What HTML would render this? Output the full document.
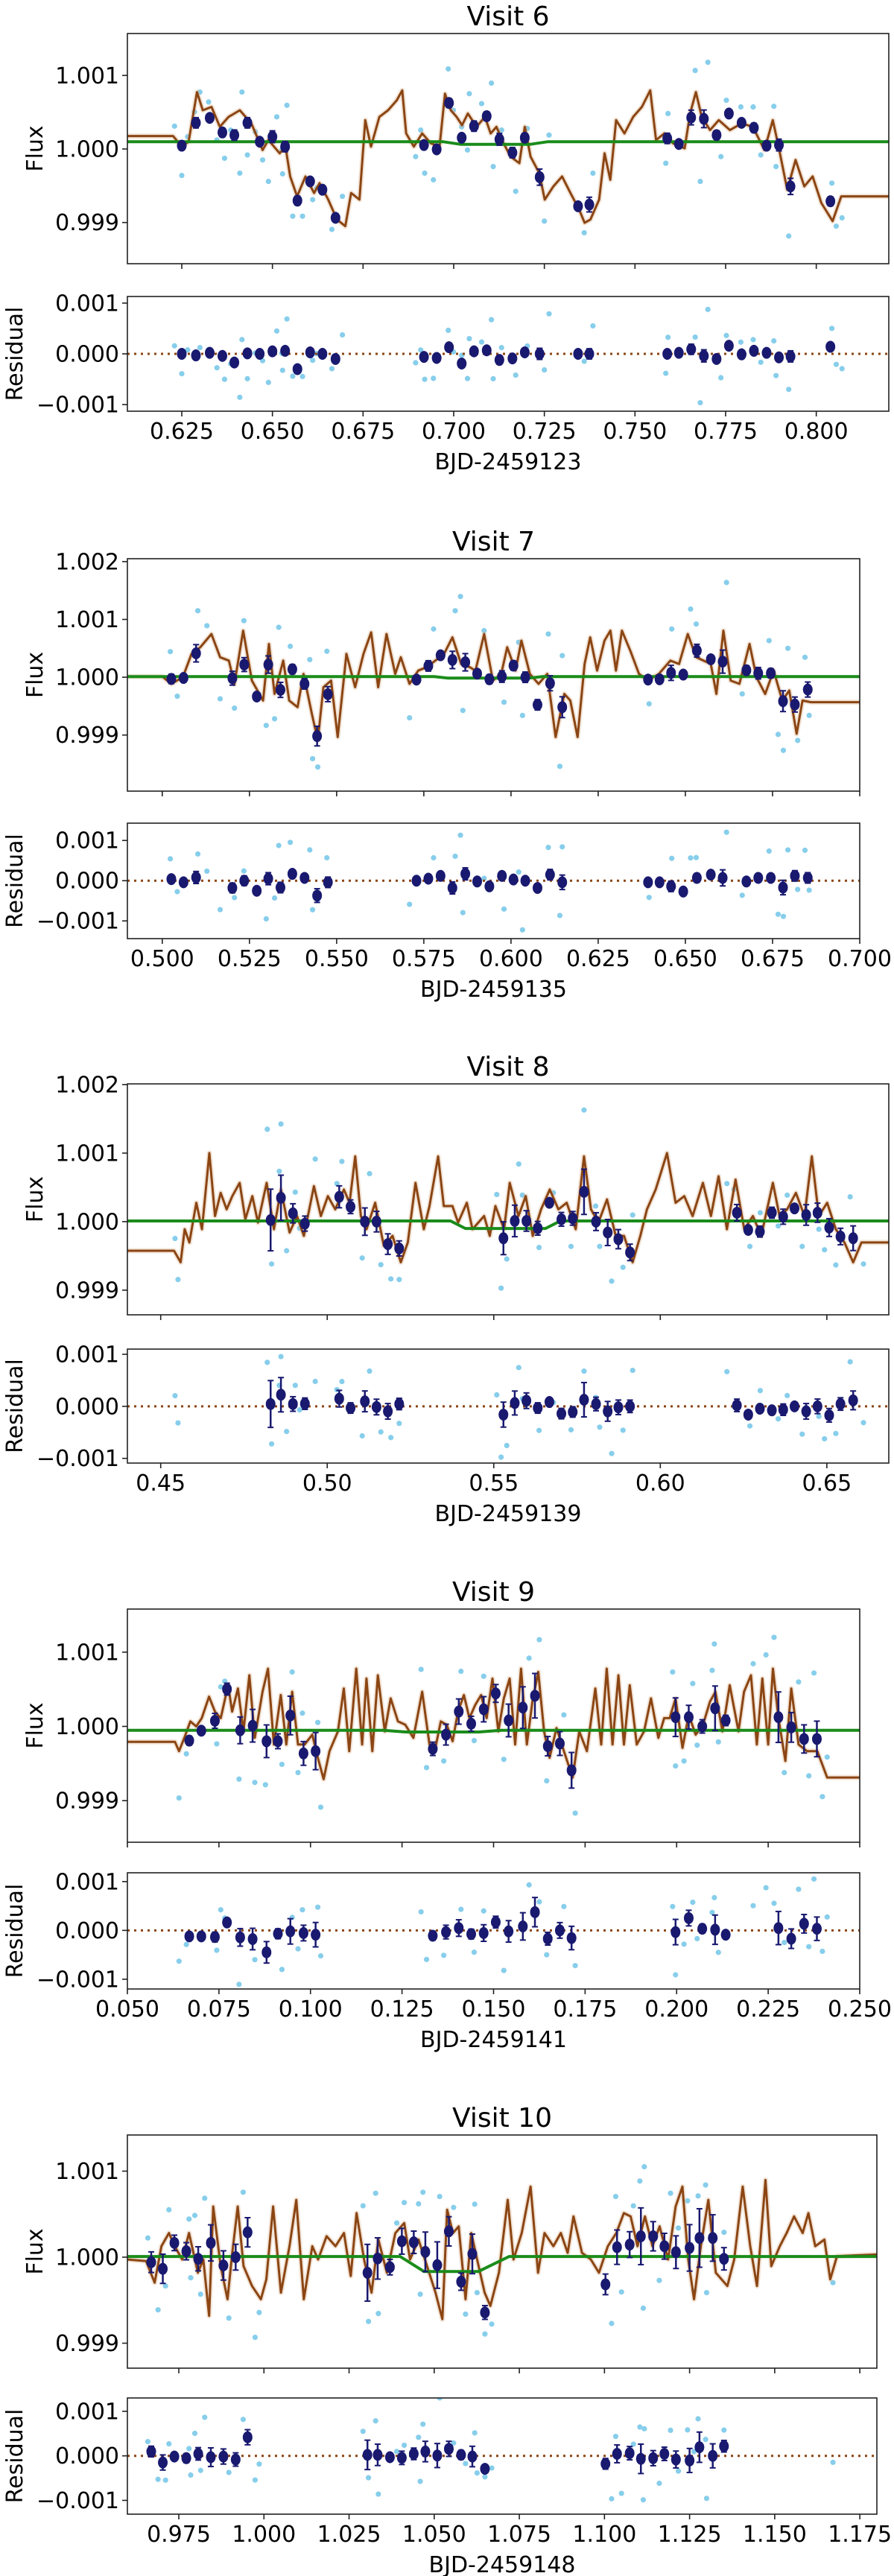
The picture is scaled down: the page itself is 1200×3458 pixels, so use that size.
<!DOCTYPE html>
<html><head><meta charset="utf-8">
<style>
html,body{margin:0;padding:0;background:#fff;}
svg{display:block;font-family:"DejaVu Sans","Liberation Sans",sans-serif;}
</style></head>
<body>
<svg id="fig" width="1200" height="3458" viewBox="0 0 1200 3458" xmlns="http://www.w3.org/2000/svg"></svg>
<script>
// ===== Visit 6 data (flux in ppm offset from 1) =====
const v6_bt=[0.6250,0.6289,0.6327,0.6362,0.6395,0.6431,0.6465,0.6500,0.6535,0.6569,0.6604,0.6638,0.6674,0.6918,0.6953,0.6987,0.7022,0.7056,0.7091,0.7126,0.7162,0.7196,0.7237,0.7343,0.7374,0.7589,0.7621,0.7655,0.7690,0.7725,0.7759,0.7794,0.7828,0.7863,0.7897,0.7929,0.8039];
const v6_bf=[45,356,423,225,189,356,99,167,32,-702,-441,-554,-936,54,-5,626,153,311,446,131,-50,153,-383,-779,-756,144,68,428,410,189,482,356,288,45,54,-509,-711];
const v6_be=[50,70,40,60,70,70,50,80,70,60,40,40,40,50,50,60,40,70,60,80,70,60,110,30,100,70,30,100,120,60,40,40,60,40,80,110,60];
const v6_rb=[0,-30,20,-40,-170,10,0,50,60,-300,30,0,-100,-60,-80,130,-190,50,70,-120,-90,30,0,0,0,0,20,90,-40,-100,160,-10,60,20,-70,-50,140];
const v6_rt=[0.6230,0.6250,0.6266,0.6285,0.6300,0.6324,0.6347,0.6368,0.6385,0.6410,0.6416,0.6431,0.6453,0.6473,0.6489,0.6512,0.6526,0.6540,0.6528,0.6556,0.6583,0.6611,0.6622,0.6664,0.6693,0.6895,0.6909,0.6920,0.6944,0.6985,0.6999,0.7022,0.7038,0.7043,0.7077,0.7104,0.7109,0.7132,0.7171,0.7203,0.7250,0.7263,0.7360,0.7384,0.7585,0.7591,0.7666,0.7680,0.7701,0.7737,0.7752,0.7792,0.7826,0.7847,0.7883,0.7889,0.7924,0.8043,0.8055,0.8071];
const v6_rf=[310,-360,167,504,774,639,122,-126,257,-329,774,-81,234,-149,-441,437,-14,594,-338,-914,-914,-689,-531,-1094,-644,-104,257,-329,-419,1089,527,302,-14,752,617,896,-239,257,-576,279,-981,189,-1139,-329,-194,482,1067,-441,1179,-104,662,572,572,-81,580,-239,-1184,-464,-1049,-936];
const v6_mt=[0.6099,0.6226,0.625,0.6269,0.6292,0.6308,0.6332,0.6355,0.6379,0.6410,0.6442,0.6473,0.6489,0.6520,0.6536,0.6549,0.6568,0.6591,0.6615,0.6630,0.6654,0.6678,0.6701,0.6717,0.6740,0.6756,0.6772,0.6795,0.6819,0.6843,0.6858,0.6869,0.6890,0.6913,0.6937,0.6961,0.6976,0.6992,0.7008,0.7023,0.7039,0.7063,0.7086,0.7102,0.7118,0.7133,0.7157,0.7181,0.7196,0.7212,0.7236,0.7251,0.7275,0.7299,0.7322,0.7346,0.7361,0.7377,0.7401,0.7416,0.7432,0.7448,0.7471,0.7495,0.7519,0.7542,0.7558,0.7581,0.7605,0.7637,0.7652,0.7668,0.7684,0.7707,0.7731,0.7762,0.7794,0.7825,0.7857,0.7880,0.7896,0.7920,0.7943,0.7967,0.7990,0.8014,0.8045,0.8069,0.8203];
const v6_mf=[176,176,32,99,774,527,572,302,437,527,347,-14,122,-59,32,-374,-644,-374,-599,-464,-689,-959,-1049,-599,-689,392,32,437,527,662,797,212,32,212,77,32,752,527,437,324,482,302,437,212,302,122,-104,-194,302,-104,-329,-689,-509,-374,-599,-824,-1004,-959,-689,-59,-419,392,212,437,572,797,122,212,77,9,482,774,437,257,392,257,347,302,-14,392,32,-554,-149,-509,-374,-734,-981,-644,-644];
const v6_gt=[0.61,0.697,0.702,0.721,0.726,0.82];
const v6_gf=[99,99,63,63,99,99];
const v6_xticks=[0.625,0.650,0.675,0.700,0.725,0.750,0.775,0.800];
const v6_yticks=[-1000,0,1000];

// ===== Visit 7 =====
const v7_bt=[0.5026,0.5061,0.5097,0.5201,0.5235,0.5271,0.5304,0.5339,0.5373,0.5408,0.5444,0.5475,0.5729,0.5763,0.5798,0.5832,0.5869,0.5903,0.5938,0.5974,0.6007,0.6041,0.6076,0.6112,0.6147,0.6393,0.6426,0.6459,0.6494,0.6533,0.6573,0.6607,0.6675,0.6709,0.6745,0.6780,0.6814,0.6851];
const v7_bf=[-29,-12,414,-17,219,-334,219,-219,138,-115,-1018,-293,-40,196,380,299,259,63,-35,12,201,0,-477,-104,-518,-40,-35,75,46,460,311,270,121,69,69,-414,-472,-213];
const v7_be=[80,60,150,120,120,40,150,130,80,90,170,130,60,90,60,150,150,40,80,100,80,90,90,130,180,70,70,130,40,110,40,200,80,100,80,180,130,130];
const v7_rb=[40,-40,80,-180,0,-250,50,-170,170,70,-370,-40,0,50,120,-180,170,-20,-140,120,30,0,-180,150,-40,-40,-40,-140,-270,70,150,70,-20,70,70,-170,120,70];
const v7_rt=[0.5023,0.5043,0.5102,0.5128,0.5166,0.5207,0.5234,0.5298,0.5334,0.5322,0.5367,0.5423,0.5431,0.5446,0.5472,0.5709,0.5778,0.5840,0.5855,0.5862,0.5923,0.5980,0.6022,0.6033,0.6107,0.6140,0.6147,0.6396,0.6461,0.6515,0.6531,0.6618,0.6663,0.6740,0.6766,0.6781,0.6794,0.6822,0.6843,0.6855];
const v7_rf=[443,-328,1150,891,-374,-535,978,-834,863,-719,535,305,-1409,-1553,449,-702,834,1150,1397,-575,805,-431,604,-661,748,-1541,374,-460,834,1179,920,1639,-288,633,-989,-1265,500,-1093,345,-661];
const v7_mt=[0.49,0.5,0.5026,0.5059,0.5084,0.5109,0.5141,0.5166,0.5191,0.5207,0.5232,0.5257,0.5289,0.5306,0.5322,0.5347,0.5364,0.5388,0.5405,0.5429,0.5446,0.5462,0.5484,0.5503,0.5528,0.5553,0.5577,0.5599,0.5619,0.5643,0.5668,0.5684,0.5709,0.5734,0.5758,0.5783,0.5808,0.5832,0.5857,0.5882,0.5898,0.5923,0.5948,0.5972,0.5989,0.6013,0.6030,0.6054,0.6079,0.6104,0.6128,0.6153,0.6170,0.6191,0.6211,0.6227,0.6247,0.6268,0.6285,0.6301,0.6318,0.6342,0.6367,0.6392,0.6424,0.6457,0.6482,0.6507,0.6531,0.6573,0.6589,0.6609,0.6630,0.6655,0.6684,0.6704,0.6729,0.6753,0.6778,0.6798,0.6819,0.6836,0.6860,0.70];
const v7_mf=[12,12,-115,0,403,518,748,345,288,-115,805,-58,-403,575,-288,288,-403,-518,58,-633,-1093,-173,-58,-1035,403,-173,403,776,-173,748,58,345,-115,115,173,288,403,690,230,173,115,748,-58,58,518,115,633,58,-115,58,-1035,-288,-403,-1035,230,690,115,633,805,115,805,460,58,-58,58,288,230,748,345,230,-288,805,-58,-115,575,0,-288,115,-403,-230,-978,-403,-431,-431];
const v7_gt=[0.49,0.578,0.582,0.605,0.609,0.70];
const v7_gf=[12,12,-15,-15,12,12];
const v7_xticks=[0.500,0.525,0.550,0.575,0.600,0.625,0.650,0.675,0.700];
const v7_yticks=[-1000,0,1000,2000];

// ===== Visit 8 =====
const v8_bt=[0.4830,0.4861,0.4897,0.4933,0.5036,0.5070,0.5113,0.5148,0.5182,0.5216,0.5529,0.5563,0.5598,0.5632,0.5667,0.5703,0.5737,0.5771,0.5807,0.5842,0.5874,0.5909,0.6230,0.6264,0.6299,0.6335,0.6369,0.6403,0.6438,0.6472,0.6507,0.6541,0.6579];
const v8_bf=[24,348,121,-29,362,217,0,0,-328,-391,-242,10,10,-97,275,34,48,435,0,-159,-256,-449,130,-121,-145,130,72,193,97,130,-87,-217,-242];
const v8_be=[450,330,140,110,160,100,200,150,150,110,240,230,150,100,60,100,100,330,130,190,140,120,120,60,80,80,110,40,150,140,130,120,180];
const v8_rb=[45,223,45,51,147,-32,96,-13,-96,45,-159,64,108,-32,83,-140,-108,127,45,-96,-19,0,19,-159,-45,-76,-64,0,-96,0,-172,45,115];
const v8_rt=[0.4552,0.4543,0.4820,0.4861,0.4833,0.4856,0.4878,0.4904,0.4917,0.4964,0.5029,0.5044,0.5105,0.5127,0.5161,0.5191,0.5216,0.5509,0.5522,0.5539,0.5575,0.5586,0.5636,0.5679,0.5732,0.5771,0.5806,0.5818,0.5854,0.5888,0.5917,0.6200,0.6221,0.6269,0.6300,0.6354,0.6381,0.6426,0.6476,0.6493,0.6527,0.6570,0.6610];
const v8_rf=[-845,-246,1348,1425,-618,734,-425,430,-97,913,555,879,-531,700,-628,-836,-845,396,-971,-546,840,386,-377,420,-362,1628,227,-362,-869,-667,97,555,469,-362,130,-63,386,-362,-111,-411,-633,362,-618];
const v8_mt=[0.44,0.4540,0.4560,0.4572,0.4586,0.4607,0.4624,0.4646,0.4663,0.4680,0.4698,0.4715,0.4737,0.4754,0.4775,0.4792,0.4818,0.4840,0.4861,0.4887,0.4909,0.4930,0.4960,0.4981,0.5002,0.5024,0.5050,0.5067,0.5084,0.5101,0.5118,0.5144,0.5170,0.5196,0.5221,0.5242,0.5265,0.5290,0.5307,0.5333,0.5350,0.5376,0.5393,0.5419,0.5436,0.5471,0.5488,0.5505,0.5531,0.5548,0.5574,0.5596,0.5617,0.5642,0.5668,0.5694,0.5719,0.5746,0.5771,0.5792,0.5814,0.5840,0.5866,0.5891,0.5917,0.5940,0.5960,0.5986,0.6020,0.6046,0.6072,0.6097,0.6128,0.6152,0.6175,0.6200,0.6226,0.6252,0.6278,0.6303,0.6338,0.6358,0.6381,0.6407,0.6433,0.6455,0.6476,0.6501,0.6527,0.6553,0.6579,0.6604,0.6700];
const v8_mf=[-425,-425,-594,-111,-304,275,-111,1000,82,420,179,372,565,34,372,-14,565,-111,469,-159,82,-208,517,82,372,179,469,275,952,82,-111,275,-353,-208,-594,-304,565,-111,227,952,227,227,-14,275,-111,82,-208,227,-111,565,82,372,-208,179,469,179,275,-111,952,179,-14,324,-208,-208,-594,-208,179,469,1000,275,372,82,565,82,662,-111,613,-111,82,-208,565,82,179,420,82,952,82,275,-111,-304,-594,-304,-304];
const v8_gt=[0.44,0.537,0.5415,0.5655,0.570,0.6686];
const v8_gf=[10,10,-100,-100,10,10];
const v8_xticks=[0.45,0.50,0.55,0.60,0.65];
const v8_yticks=[-1000,0,1000,2000];

// ===== Visit 9 =====
const v9_bt=[0.0669,0.0702,0.0739,0.0772,0.0808,0.0842,0.0880,0.0911,0.0945,0.0981,0.1014,0.1334,0.1370,0.1405,0.1439,0.1473,0.1506,0.1541,0.1580,0.1613,0.1648,0.1681,0.1713,0.1997,0.2033,0.2070,0.2105,0.2134,0.2278,0.2313,0.2348,0.2383];
const v9_bf=[-191,-58,75,502,-53,9,-200,-200,147,-364,-333,-302,-111,200,36,231,444,80,253,413,-266,-231,-591,124,124,0,244,80,124,-13,-169,-169];
const v9_be=[60,50,100,80,180,220,220,100,260,160,250,90,140,170,100,170,120,220,280,300,130,160,240,260,160,90,300,70,340,200,190,240];
const v9_rb=[-122,-122,-136,163,-143,-177,-449,-68,-20,-54,-88,-109,-34,48,-75,-54,170,-20,82,374,-170,0,-156,-34,252,34,14,-88,48,-170,136,34];
const v9_rt=[0.0641,0.0661,0.0744,0.0755,0.0766,0.0805,0.0848,0.0877,0.0922,0.0950,0.0966,0.0978,0.1020,0.1028,0.1302,0.1317,0.1364,0.1411,0.1447,0.1473,0.1528,0.1597,0.1625,0.1645,0.1692,0.1723,0.1989,0.1997,0.2020,0.2044,0.2056,0.2097,0.2103,0.2114,0.2209,0.2244,0.2266,0.2294,0.2333,0.2361,0.2375,0.2398,0.2411];
const v9_rf=[-964,-369,-235,533,608,-710,-755,-786,-511,733,-622,178,53,-1088,768,-555,-466,742,-191,675,-444,919,1168,-733,155,-1168,733,-533,-466,577,-253,755,1110,-209,844,963,1199,-622,599,-666,719,-946,-413];
const v9_mt=[0.05,0.0630,0.0641,0.0656,0.0672,0.0688,0.0703,0.0723,0.0739,0.0755,0.0775,0.0786,0.0802,0.0817,0.0833,0.0848,0.0869,0.0884,0.0900,0.0919,0.0934,0.0950,0.0966,0.0984,0.1005,0.1020,0.1036,0.1052,0.1075,0.1091,0.1106,0.1125,0.1141,0.1153,0.1169,0.1184,0.1203,0.1219,0.1239,0.1259,0.1281,0.1305,0.1325,0.1341,0.1356,0.1372,0.1388,0.1403,0.1419,0.1434,0.1450,0.1466,0.1481,0.1497,0.1513,0.1528,0.1544,0.1559,0.1575,0.1591,0.1606,0.1622,0.1638,0.1653,0.1672,0.1692,0.1716,0.1734,0.1755,0.1778,0.1794,0.1809,0.1825,0.1841,0.1856,0.1872,0.1891,0.1911,0.1930,0.1950,0.1966,0.1981,0.1997,0.2016,0.2033,0.2052,0.2072,0.2091,0.2106,0.2125,0.2145,0.2169,0.2184,0.2203,0.2219,0.2234,0.2250,0.2263,0.2278,0.2297,0.2313,0.2333,0.2356,0.2384,0.2411,0.25];
const v9_mf=[-209,-209,-333,-147,67,0,111,400,200,111,555,200,511,-67,688,-155,466,777,-244,422,-244,466,-244,-244,-111,-422,-710,-333,-67,511,-333,777,-244,644,-333,688,-67,377,67,22,-155,466,-244,-289,67,22,-200,200,422,111,289,422,111,644,-67,377,644,-244,777,-244,333,733,-67,-422,-22,-333,-688,-67,-333,511,-244,777,-244,688,-244,555,-244,-67,377,-155,111,111,377,-289,155,-111,22,333,466,-67,555,-67,466,688,-244,644,-244,777,111,-466,511,-244,-333,-333,-688,-688];
const v9_gt=[0.05,0.120,0.126,0.146,0.152,0.25];
const v9_gf=[-53,-53,-75,-75,-53,-53];
const v9_xticks=[0.050,0.075,0.100,0.125,0.150,0.175,0.200,0.225,0.250];
const v9_yticks=[-1000,0,1000];

// ===== Visit 10 =====
const v10_bt=[0.9669,0.9703,0.9737,0.9772,0.9807,0.9844,0.9881,0.9917,0.9952,1.0304,1.0334,1.0370,1.0405,1.0440,1.0474,1.0509,1.0543,1.0579,1.0612,1.0649,1.1003,1.1037,1.1074,1.1107,1.1143,1.1176,1.1210,1.1250,1.1279,1.1318,1.1351];
const v10_bf=[-58,-135,166,69,-19,166,-96,0,289,-181,-15,-116,185,173,62,-92,300,-285,38,-643,-316,116,146,243,243,127,58,108,223,223,-19];
const v10_be=[120,170,90,100,140,210,170,150,170,330,240,90,150,130,230,270,170,100,230,80,120,200,150,330,170,150,190,270,340,270,130];
const v10_rb=[97,-149,-15,-52,45,-30,-15,-82,418,22,22,-30,-45,45,97,7,157,22,-15,-291,-179,45,60,-67,-52,45,-82,-104,194,0,216];
const v10_rt=[0.9659,0.9689,0.9711,0.9721,0.9780,0.9785,0.9797,0.9814,0.9826,0.9897,0.9939,0.9974,0.9986,1.0291,1.0307,1.0328,1.0336,1.0390,1.0412,1.0454,1.0459,1.0467,1.0516,1.0557,1.0592,1.0619,1.0626,1.0649,1.0669,1.1021,1.1033,1.1050,1.1085,1.1104,1.1114,1.1117,1.1161,1.1194,1.1217,1.1244,1.1263,1.1275,1.1297,1.1300,1.1351,1.1671];
const v10_rf=[223,-612,-335,551,443,-239,485,-431,685,-708,755,-932,-643,597,-747,743,-655,397,635,620,-431,755,705,578,-662,616,-412,-893,-778,-770,705,-404,597,885,-593,1051,-270,743,339,655,-393,712,839,-412,289,-296];
const v10_mt=[0.9598,0.9654,0.9679,0.9699,0.9721,0.9738,0.9760,0.9780,0.9806,0.9822,0.9839,0.9851,0.9873,0.9893,0.9907,0.9923,0.9940,0.9965,0.9991,1.0007,1.0027,1.0050,1.0075,1.0095,1.0117,1.0142,1.0159,1.0184,1.0210,1.0235,1.0255,1.0272,1.0294,1.0316,1.0336,1.0361,1.0386,1.0412,1.0429,1.0454,1.0479,1.0504,1.0524,1.0538,1.0555,1.0572,1.0592,1.0609,1.0626,1.0648,1.0665,1.0690,1.0716,1.0733,1.0757,1.0783,1.0805,1.0824,1.0850,1.0872,1.0892,1.0909,1.0934,1.0960,1.0984,1.1010,1.1035,1.1057,1.1077,1.1097,1.1119,1.1141,1.1162,1.1187,1.1209,1.1229,1.1246,1.1263,1.1283,1.1305,1.1327,1.1361,1.1381,1.1406,1.1428,1.1448,1.1473,1.1490,1.1515,1.1535,1.1557,1.1582,1.1599,1.1619,1.1646,1.1663,1.1683,1.1801];
const v10_mf=[-27,-46,-296,127,281,127,-27,281,-181,-27,-681,589,-104,-489,50,589,-104,-335,-489,-258,589,-412,127,666,-489,127,-27,243,127,281,-219,512,-27,-412,204,-181,281,397,-27,204,-104,-412,-720,551,281,358,-489,281,-27,-412,-566,-181,666,-27,281,820,-181,281,127,281,50,474,50,-27,-181,127,281,512,474,127,474,127,358,-27,589,820,-27,-489,127,666,-181,-335,-27,820,127,-335,897,-104,127,281,474,281,512,127,204,-258,12,31];
const v10_gt=[0.9599,1.040,1.047,1.063,1.072,1.180];
const v10_gf=[8,8,-166,-166,8,8];
const v10_xticks=[0.975,1.000,1.025,1.050,1.075,1.100,1.125,1.150,1.175];
const v10_yticks=[-1000,0,1000];

const resTicks=[-1000,0,1000];

// ===== layout (not data) =====
const NS="http://www.w3.org/2000/svg";
const svg=document.getElementById('fig');
function mk(tag,attrs,parent){const e=document.createElementNS(NS,tag);for(const k in attrs)e.setAttribute(k,attrs[k]);(parent||svg).appendChild(e);return e;}
function interp(xs,ys,t){const n=Math.min(xs.length,ys.length);if(t<=xs[0])return ys[0];for(let i=1;i<n;i++){if(t<=xs[i]){const f=(t-xs[i-1])/(xs[i]-xs[i-1]);return ys[i-1]+f*(ys[i]-ys[i-1]);}}return ys[n-1];}

const visits=[
 {name:'6',day:'2459123',L:171,R:1193,titleY:34,T1:45,B1:354,T2:398,B2:552,xmin:0.61,xmax:0.82,ymin:-1560,ymax:1570,rmin:-1130,rmax:1130,dec:3,
  bt:v6_bt,bf:v6_bf,be:v6_be,rb:v6_rb,rt:v6_rt,rf:v6_rf,mt:v6_mt,mf:v6_mf,gt:v6_gt,gf:v6_gf,xt:v6_xticks,yt:v6_yticks},
 {name:'7',day:'2459135',L:171,R:1154,titleY:739,T1:750,B1:1062,T2:1105,B2:1260,xmin:0.49,xmax:0.70,ymin:-1970,ymax:2050,rmin:-1440,rmax:1430,dec:3,
  bt:v7_bt,bf:v7_bf,be:v7_be,rb:v7_rb,rt:v7_rt,rf:v7_rf,mt:v7_mt,mf:v7_mf,gt:v7_gt,gf:v7_gf,xt:v7_xticks,yt:v7_yticks},
 {name:'8',day:'2459139',L:171,R:1193,titleY:1444,T1:1455,B1:1765,T2:1811,B2:1964,xmin:0.44,xmax:0.6686,ymin:-1360,ymax:2010,rmin:-1090,rmax:1100,dec:2,
  bt:v8_bt,bf:v8_bf,be:v8_be,rb:v8_rb,rt:v8_rt,rf:v8_rf,mt:v8_mt,mf:v8_mf,gt:v8_gt,gf:v8_gf,xt:v8_xticks,yt:v8_yticks},
 {name:'9',day:'2459141',L:171,R:1154,titleY:2149,T1:2160,B1:2473,T2:2514,B2:2670,xmin:0.05,xmax:0.25,ymin:-1560,ymax:1580,rmin:-1200,rmax:1180,dec:3,
  bt:v9_bt,bf:v9_bf,be:v9_be,rb:v9_rb,rt:v9_rt,rf:v9_rf,mt:v9_mt,mf:v9_mf,gt:v9_gt,gf:v9_gf,xt:v9_xticks,yt:v9_yticks},
 {name:'10',day:'2459148',L:171,R:1177,titleY:2855,T1:2866,B1:3179,T2:3219,B2:3375,xmin:0.9599,xmax:1.180,ymin:-1290,ymax:1420,rmin:-1310,rmax:1300,dec:3,
  bt:v10_bt,bf:v10_bf,be:v10_be,rb:v10_rb,rt:v10_rt,rf:v10_rf,mt:v10_mt,mf:v10_mf,gt:v10_gt,gf:v10_gf,xt:v10_xticks,yt:v10_yticks}
];

const defs=mk('defs',{});
visits.forEach((v,vi)=>{
  const g=mk('g',{});
  
  
  const X=t=>v.L+(t-v.xmin)/(v.xmax-v.xmin)*(v.R-v.L);
  const Y1=f=>v.B1-(f-v.ymin)/(v.ymax-v.ymin)*(v.B1-v.T1);
  const Y2=f=>v.B2-(f-v.rmin)/(v.rmax-v.rmin)*(v.B2-v.T2);
  const cx=(v.L+v.R)/2;
  const c1=mk('clipPath',{id:'c1_'+vi},defs);mk('rect',{x:v.L,y:v.T1,width:v.R-v.L,height:v.B1-v.T1},c1);
  const c2=mk('clipPath',{id:'c2_'+vi},defs);mk('rect',{x:v.L,y:v.T2,width:v.R-v.L,height:v.B2-v.T2},c2);

  const title=mk('text',{x:cx,y:v.titleY,'text-anchor':'middle','font-size':36,fill:'#000'},g);
  title.textContent='Visit '+v.name;
  
  

  const top=mk('g',{'clip-path':'url(#c1_'+vi+')'},g);
  
  
  const n=Math.min(v.rt.length,v.rf.length);
  for(let i=0;i<n;i++){
    const p=mk('circle',{cx:X(v.rt[i]),cy:Y1(v.rf[i]),r:3.6,fill:'#87CEEB'},top);
    
    
  }
  let pts=[];const mn=Math.min(v.mt.length,v.mf.length);
  for(let i=0;i<mn;i++)pts.push(X(v.mt[i]).toFixed(1)+','+Y1(v.mf[i]).toFixed(1));
  const band=mk('polyline',{points:pts.join(' '),fill:'none',stroke:'#d9b38c','stroke-opacity':0.35,'stroke-width':7,'stroke-linejoin':'round'},top);
  
  
  const ml=mk('polyline',{points:pts.join(' '),fill:'none',stroke:'#8B4513','stroke-width':3,'stroke-linejoin':'round'},top);
  
  
  let gp=[];for(let i=0;i<Math.min(v.gt.length,v.gf.length);i++)gp.push(X(v.gt[i]).toFixed(1)+','+Y1(v.gf[i]).toFixed(1));
  const gl=mk('polyline',{points:gp.join(' '),fill:'none',stroke:'#1a8c1a','stroke-width':4},top);
  
  
  const bn=Math.min(v.bt.length,v.bf.length);
  for(let i=0;i<bn;i++){
    const x=X(v.bt[i]),y=Y1(v.bf[i]),e=v.be[i]||80;
    const eb=mk('g',{},top);
    
    
    const ya=Y1(v.bf[i]+e),yb=Y1(v.bf[i]-e);
    mk('line',{x1:x,y1:ya,x2:x,y2:yb,stroke:'#191970','stroke-width':2.5},eb);
    mk('line',{x1:x-4,y1:ya,x2:x+4,y2:ya,stroke:'#191970','stroke-width':2},eb);
    mk('line',{x1:x-4,y1:yb,x2:x+4,y2:yb,stroke:'#191970','stroke-width':2},eb);
    mk('ellipse',{cx:x,cy:y,rx:6.5,ry:8,fill:'#191970'},eb);
  }
  const fr1=mk('rect',{x:v.L,y:v.T1,width:v.R-v.L,height:v.B1-v.T1,fill:'none',stroke:'#222','stroke-width':1.6},g);
  
  
  v.yt.forEach(tk=>{
    const y=Y1(tk);
    mk('line',{x1:v.L-7,y1:y,x2:v.L,y2:y,stroke:'#222','stroke-width':1.6},g);
    const tl=mk('text',{x:v.L-11,y:y+10.5,'text-anchor':'end','font-size':30},g);
    tl.textContent=(1+tk*1e-6).toFixed(3);
    
    
  });
  v.xt.forEach(tk=>{mk('line',{x1:X(tk),y1:v.B1,x2:X(tk),y2:v.B1+7,stroke:'#222','stroke-width':1.6},g);});
  const yl1=mk('text',{x:0,y:0,'text-anchor':'middle','font-size':30,transform:'translate(57,'+((v.T1+v.B1)/2)+') rotate(-90)'},g);
  yl1.textContent='Flux';
  
  

  const bot=mk('g',{'clip-path':'url(#c2_'+vi+')'},g);
  
  
  for(let i=0;i<n;i++){
    const r=v.rf[i]-interp(v.mt,v.mf,v.rt[i]);
    const p=mk('circle',{cx:X(v.rt[i]),cy:Y2(r),r:3.6,fill:'#87CEEB'},bot);
    
    
  }
  const zl=mk('line',{x1:v.L,y1:Y2(0),x2:v.R,y2:Y2(0),stroke:'#8B4513','stroke-width':3,'stroke-dasharray':'3,6'},bot);
  
  
  for(let i=0;i<Math.min(v.bt.length,v.rb.length);i++){
    const x=X(v.bt[i]),e=v.be[i]||80;
    const eb=mk('g',{},bot);
    
    
    const ya=Y2(v.rb[i]+e),yb=Y2(v.rb[i]-e);
    mk('line',{x1:x,y1:ya,x2:x,y2:yb,stroke:'#191970','stroke-width':2.5},eb);
    mk('line',{x1:x-4,y1:ya,x2:x+4,y2:ya,stroke:'#191970','stroke-width':2},eb);
    mk('line',{x1:x-4,y1:yb,x2:x+4,y2:yb,stroke:'#191970','stroke-width':2},eb);
    mk('ellipse',{cx:x,cy:Y2(v.rb[i]),rx:6.5,ry:8,fill:'#191970'},eb);
  }
  const fr2=mk('rect',{x:v.L,y:v.T2,width:v.R-v.L,height:v.B2-v.T2,fill:'none',stroke:'#222','stroke-width':1.6},g);
  
  
  resTicks.forEach(tk=>{
    const y=Y2(tk);
    mk('line',{x1:v.L-7,y1:y,x2:v.L,y2:y,stroke:'#222','stroke-width':1.6},g);
    const tl=mk('text',{x:v.L-11,y:y+10.5,'text-anchor':'end','font-size':30},g);
    tl.textContent=(tk<0?'\u2212':'')+Math.abs(tk*1e-6).toFixed(3);
    
    
  });
  v.xt.forEach(tk=>{
    const x=X(tk);
    mk('line',{x1:x,y1:v.B2,x2:x,y2:v.B2+7,stroke:'#222','stroke-width':1.6},g);
    const tl=mk('text',{x:x,y:v.B2+37,'text-anchor':'middle','font-size':30},g);
    tl.textContent=tk.toFixed(v.dec);
    
    
  });
  const yl2=mk('text',{x:0,y:0,'text-anchor':'middle','font-size':30,transform:'translate(30,'+((v.T2+v.B2)/2)+') rotate(-90)'},g);
  yl2.textContent='Residual';
  
  
  const xl=mk('text',{x:cx,y:v.B2+78,'text-anchor':'middle','font-size':30},g);
  xl.textContent='BJD-'+v.day;
  
  
});
</script>
</body></html>
